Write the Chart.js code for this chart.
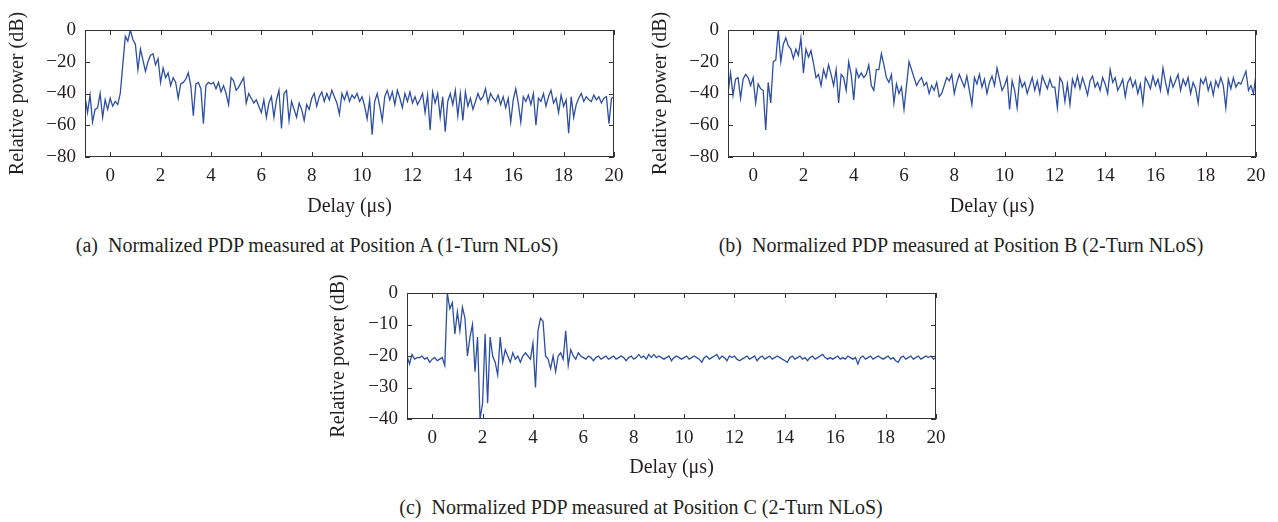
<!DOCTYPE html>
<html>
<head>
<meta charset="utf-8">
<script src="https://cdn.jsdelivr.net/npm/chart.js@4"></script>
<style>
  body { margin: 0; background: #fff; }
  #wrap { position: relative; width: 1278px; height: 522px; font-family: "Liberation Serif", serif; color: #231f20; }
  canvas { position: absolute; }
  .cap { position: absolute; font-size: 20px; white-space: nowrap; transform: translateX(-50%); }
</style>
</head>
<body>
<div id="wrap">
  <canvas id="chartA" width="640" height="225" style="left:0;top:0"></canvas>
  <canvas id="chartB" width="638" height="225" style="left:640px;top:0"></canvas>
  <canvas id="chartC" width="640" height="220" style="left:320px;top:270px"></canvas>
  <div class="cap" style="left:317px;top:234px">(a)&nbsp; Normalized PDP measured at Position A (1-Turn NLoS)</div>
  <div class="cap" style="left:961px;top:234px">(b)&nbsp; Normalized PDP measured at Position B (2-Turn NLoS)</div>
  <div class="cap" style="left:641px;top:496px">(c)&nbsp; Normalized PDP measured at Position C (2-Turn NLoS)</div>
</div>
<script>
// delay grid: -1 ... 20 us, 0.1 us sampling
const delayStart = -1;
const delayStep = 0.1;

// Position A (1-Turn NLoS), dB, one row per microsecond
const powerA = [
  -42,-52,-41,-58,-50,-49,-40,-55,-44,-50,
  -43,-48,-45,-47,-40,-22,-4,-7,0,-6,
  -9,-25,-12,-19,-26,-20,-16,-15,-22,-18,
  -33,-24,-30,-27,-35,-30,-33,-43,-34,-33,
  -31,-27,-35,-54,-34,-33,-37,-59,-35,-33,
  -34,-33,-37,-33,-39,-35,-40,-47,-30,-32,
  -38,-36,-33,-30,-46,-40,-43,-46,-44,-48,
  -52,-44,-55,-46,-42,-55,-44,-38,-62,-40,
  -38,-57,-45,-50,-55,-46,-50,-57,-47,-50,
  -43,-40,-48,-42,-39,-45,-40,-44,-38,-42,
  -46,-53,-40,-44,-39,-45,-41,-43,-40,-45,
  -42,-48,-56,-44,-66,-45,-40,-48,-57,-42,
  -38,-44,-39,-47,-38,-43,-49,-40,-45,-39,
  -46,-42,-47,-44,-40,-52,-41,-63,-39,-46,
  -40,-55,-42,-64,-45,-40,-47,-38,-54,-40,
  -57,-39,-48,-43,-50,-45,-40,-44,-42,-37,
  -46,-40,-43,-45,-41,-47,-42,-49,-43,-58,
  -44,-37,-46,-58,-42,-45,-41,-47,-40,-60,
  -43,-45,-40,-48,-42,-38,-46,-43,-52,-41,
  -48,-44,-65,-42,-55,-47,-43,-40,-45,-42,
  -44,-45,-41,-44,-42,-46,-43,-42,-59,-43,
  -42
];

// Position B (2-Turn NLoS)
const powerB = [
  -40,-27,-41,-31,-30,-43,-31,-28,-30,-35,
  -30,-46,-34,-37,-38,-63,-33,-46,-20,-19,
  0,-20,-9,-5,-10,-12,-18,-12,-16,-5,
  -27,-12,-17,-13,-21,-30,-28,-35,-25,-30,
  -22,-28,-35,-25,-46,-28,-30,-38,-20,-28,
  -44,-25,-30,-27,-30,-28,-22,-35,-38,-25,
  -25,-15,-22,-30,-33,-28,-46,-34,-40,-36,
  -50,-35,-20,-25,-30,-35,-32,-30,-35,-33,
  -40,-35,-38,-33,-42,-40,-35,-30,-32,-28,
  -40,-33,-28,-32,-36,-29,-38,-47,-30,-34,
  -28,-36,-31,-40,-33,-29,-35,-24,-31,-38,
  -35,-30,-50,-32,-38,-49,-30,-36,-33,-40,
  -35,-30,-38,-32,-40,-29,-33,-37,-31,-36,
  -36,-49,-30,-33,-45,-34,-47,-31,-36,-29,
  -37,-30,-35,-41,-32,-29,-36,-33,-38,-30,
  -34,-40,-25,-33,-30,-38,-35,-31,-42,-33,
  -30,-36,-32,-40,-34,-46,-30,-33,-37,-29,
  -35,-31,-38,-24,-33,-40,-30,-36,-32,-28,
  -38,-31,-35,-30,-40,-33,-37,-46,-31,-34,
  -30,-38,-33,-41,-32,-36,-30,-35,-49,-31,
  -37,-30,-36,-33,-34,-30,-26,-38,-35,-40,
  -28
];

// Position C (2-Turn NLoS)
const powerC = [
  -20,-22.5,-19.5,-21,-20.5,-20.5,-20,-21,-20.5,-22,
  -21,-20.5,-21.5,-21,-20.5,-23,0,-5,-3,-13,
  -6,-12,-4.5,-8,-20,-14,-10,-25,-14,-40,
  -35,-13,-35,-14,-20,-22,-26,-14,-22,-18,
  -20,-22,-19,-21,-20,-22,-20,-19,-20,-21,
  -16,-30,-12,-8,-9,-20,-21,-24,-20,-25,
  -20,-19,-21,-12,-23,-18,-20,-21,-19,-20,
  -20.5,-21,-20,-20.5,-21.5,-20.5,-20,-21,-20.5,-20,
  -21,-20.5,-20,-21,-20.5,-20,-20.5,-21.5,-20.5,-20,
  -21,-20.5,-19.5,-20.5,-20,-21,-19.5,-20.5,-19.5,-20.5,
  -20,-20.5,-21,-20.5,-20,-21.5,-20.5,-20,-20.5,-21,
  -20.5,-20,-21,-20.5,-20,-20.5,-21,-22,-20.5,-20,
  -21,-20.5,-20,-19.5,-21,-20,-20.5,-21.5,-20,-20.5,
  -20,-21,-21.5,-21,-20.5,-20,-21,-20.5,-20,-21.5,
  -20.5,-20,-21,-20.5,-20,-21,-20.5,-20,-20.5,-21,
  -21.5,-22,-20.5,-20,-21,-20.5,-20,-21,-20.5,-21.5,
  -20.5,-20,-21,-20.5,-20,-19.5,-20.5,-21,-20.5,-21,
  -20.5,-20,-21,-20.5,-21,-20,-20.5,-21,-20.5,-22.5,
  -20.5,-20,-21,-20.5,-20,-21,-20.5,-20,-20.5,-21,
  -20.5,-20,-21,-20.5,-21.5,-22,-20.5,-20,-21,-20.5,
  -20,-21,-20.5,-20,-21,-20.5,-20,-20.5,-20,-21,
  -20.5
];

const xTicks = [0, 2, 4, 6, 8, 10, 12, 14, 16, 18, 20];
const yTicksAB = [0, -20, -40, -60, -80];
const yTicksC = [0, -10, -20, -30, -40];

const lineColor = '#2c4ea3';
const textColor = '#231f20';
const fontFamily = '"Liberation Serif", serif';

// MATLAB style box with inward ticks
const frame = {
  id: 'frame',
  afterDraw(chart) {
    const { ctx, chartArea: a, scales: { x, y } } = chart;
    ctx.save();
    ctx.strokeStyle = '#333';
    ctx.lineWidth = 1;
    ctx.strokeRect(a.left + 0.5, a.top + 0.5, a.right - a.left - 1, a.bottom - a.top - 1);
    ctx.beginPath();
    x.ticks.forEach(t => {
      const px = Math.round(x.getPixelForValue(t.value)) + 0.5;
      ctx.moveTo(px, a.bottom); ctx.lineTo(px, a.bottom - 5);
      ctx.moveTo(px, a.top); ctx.lineTo(px, a.top + 5);
    });
    y.ticks.forEach(t => {
      const py = Math.round(y.getPixelForValue(t.value)) + 0.5;
      ctx.moveTo(a.left, py); ctx.lineTo(a.left + 5, py);
      ctx.moveTo(a.right, py); ctx.lineTo(a.right - 5, py);
    });
    ctx.stroke();
    ctx.restore();
  }
};

function toPoints(values) {
  return values.map((v, i) => ({ x: +(delayStart + i * delayStep).toFixed(1), y: v }));
}

function makeChart(id, values, yTicks, box) {
  new Chart(document.getElementById(id), {
    type: 'line',
    data: {
      datasets: [{
        data: toPoints(values),
        borderColor: lineColor,
        borderWidth: 1.3,
        pointRadius: 0,
        tension: 0
      }]
    },
    options: {
      responsive: false,
      animation: false,
      layout: { padding: { top: box.padTop, right: box.padRight, left: 0, bottom: 0 } },
      plugins: { legend: { display: false }, tooltip: { enabled: false } },
      scales: {
        x: {
          type: 'linear',
          min: -1,
          max: 20,
          grid: { display: false, drawTicks: false },
          border: { display: false },
          afterBuildTicks: s => { s.ticks = xTicks.map(v => ({ value: v })); },
          afterFit: s => { s.height = box.xHeight; },
          ticks: {
            color: textColor,
            font: { family: fontFamily, size: 19 },
            padding: 8,
            maxRotation: 0,
            callback: v => String(v).replace('-', '\u2212')
          },
          title: {
            display: true,
            text: 'Delay (\u03bcs)',
            color: textColor,
            font: { family: fontFamily, size: 20 },
            padding: { top: 0, bottom: box.xTitlePad }
          }
        },
        y: {
          min: yTicks[yTicks.length - 1],
          max: 0,
          grid: { display: false, drawTicks: false },
          border: { display: false },
          afterBuildTicks: s => { s.ticks = yTicks.map(v => ({ value: v })); },
          afterFit: s => { s.width = box.yWidth; },
          ticks: {
            color: textColor,
            font: { family: fontFamily, size: 19 },
            padding: 9,
            callback: v => String(v).replace('-', '\u2212')
          },
          title: {
            display: true,
            text: 'Relative power (dB)',
            color: textColor,
            font: { family: fontFamily, size: 20 },
            padding: { top: box.titlePad, bottom: 0 }
          }
        }
      }
    },
    plugins: [frame]
  });
}

makeChart('chartA', powerA, yTicksAB, { yWidth: 85, xHeight: 68, padTop: 30, padRight: 26, titlePad: 6, xTitlePad: 6 });
makeChart('chartB', powerB, yTicksAB, { yWidth: 88, xHeight: 68, padTop: 30, padRight: 22, titlePad: 9, xTitlePad: 6 });
makeChart('chartC', powerC, yTicksC, { yWidth: 87, xHeight: 71, padTop: 23, padRight: 24, titlePad: 7, xTitlePad: 10 });
</script>
</body>
</html>
